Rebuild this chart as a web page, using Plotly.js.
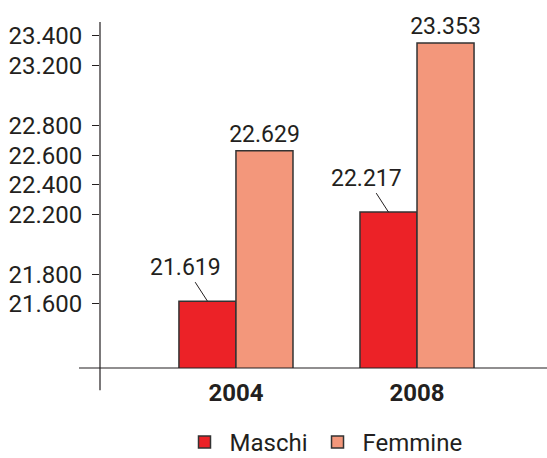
<!DOCTYPE html>
<html>
<head>
<meta charset="utf-8">
<script src="https://cdn.plot.ly/plotly-3.0.1.min.js"></script>
<style>html,body{margin:0;padding:0;background:#fff;}#chart{width:547px;height:458px;}</style>
</head>
<body>
<div id="chart"></div>
<script>
const years = ['2004', '2008'];
const maschi = [21619, 22217];
const femmine = [22629, 23353];
const seriesNames = ['Maschi', 'Femmine'];
const tickValues = [21600, 21800, 22200, 22400, 22600, 22800, 23200, 23400];

const ink = '#231f20';
const font = 'Roboto, "Liberation Sans", sans-serif';
function fmt(v) { return String(v).replace(/\B(?=(\d{3})+(?!\d))/g, '.'); }

const traces = [
  {
    type: 'bar', name: seriesNames[0], x: years, y: maschi,
    marker: {color: '#ec2227', line: {color: '#333', width: 1.5}},
    hoverinfo: 'skip'
  },
  {
    type: 'bar', name: seriesNames[1], x: years, y: femmine,
    marker: {color: '#f3977b', line: {color: '#333', width: 1.5}},
    text: femmine.map(fmt), textposition: 'outside', cliponaxis: false,
    constraintext: 'none',
    textfont: {family: font, size: 23, color: ink},
    hoverinfo: 'skip'
  }
];

const annotations = years.map((yr, i) => ({
  x: i, y: maschi[i], xref: 'x', yref: 'y', xshift: -28.5,
  text: fmt(maschi[i]), showarrow: true, arrowhead: 0, arrowwidth: 1,
  arrowcolor: ink, ax: -22, ay: -34, standoff: 0,
  font: {family: font, size: 23, color: ink}
}));

const layout = {
  width: 547, height: 458,
  margin: {l: 100, r: 0, t: 22, b: 90, autoexpand: false},
  paper_bgcolor: '#fff', plot_bgcolor: '#fff',
  separators: ',.',
  barmode: 'group', bargap: 0.37, bargroupgap: 0,
  font: {family: font, color: ink},
  showlegend: true,
  legend: {orientation: 'h', x: 0.5, xanchor: 'center', y: -0.215, yanchor: 'middle',
           font: {family: font, size: 24, color: ink}, itemwidth: 40, traceorder: 'normal'},
  xaxis: {
    type: 'category', range: [-0.751, 1.718], showline: false, showgrid: false,
    zeroline: false, ticks: '', ticklabelstandoff: 8,
    tickfont: {family: font, size: 24, color: ink, weight: 'bold'}
  },
  yaxis: {
    range: [21170, 23494], showline: false, showgrid: false, zeroline: false,
    tickvals: tickValues, tickformat: ',d', ticks: 'outside', ticklen: 7,
    tickcolor: ink, tickwidth: 1, ticklabelstandoff: 5,
    tickfont: {family: font, size: 24, color: ink}
  },
  shapes: [
    {type: 'line', xref: 'paper', yref: 'paper', x0: 0, x1: 0, y0: -0.064, y1: 1,
     line: {color: ink, width: 1.2}, layer: 'above'},
    {type: 'line', xref: 'paper', yref: 'paper', x0: -0.047, x1: 1, y0: 0, y1: 0,
     line: {color: ink, width: 1.2}, layer: 'above'}
  ],
  annotations: annotations
};

Plotly.newPlot('chart', traces, layout, {displayModeBar: false, staticPlot: true});
</script>
</body>
</html>
